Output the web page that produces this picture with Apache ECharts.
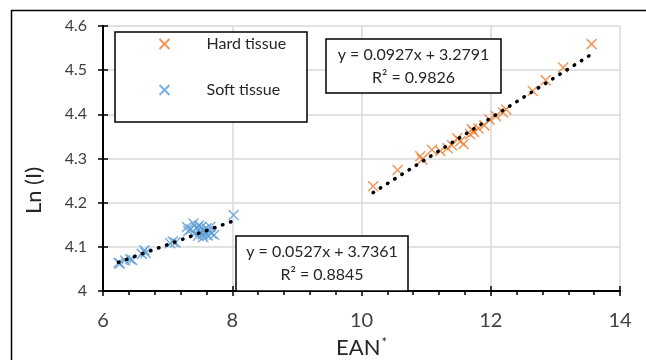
<!DOCTYPE html>
<html>
<head>
<meta charset="utf-8">
<script src="https://cdn.jsdelivr.net/npm/echarts@6/dist/echarts.min.js"></script>
<style>
  html, body { margin: 0; padding: 0; background: #fff; }
  #chart { width: 646px; height: 360px; }
</style>
</head>
<body>
<div id="chart"></div>
<script>
// axis ranges: [min, max, step]
const xRange = [6, 14, 2];
const yRange = [4, 4.6, 0.1];

const hardX = [10.18, 10.56, 10.91, 10.94, 11.09, 11.22, 11.33, 11.40, 11.48, 11.53, 11.58, 11.68,
  11.71, 11.74, 11.81, 11.90, 11.98, 12.08, 12.19, 12.24, 12.65, 12.85, 13.12, 13.56];
const hardY = [4.237, 4.274, 4.305, 4.298, 4.320, 4.317, 4.323, 4.330, 4.346, 4.339, 4.333, 4.355,
  4.366, 4.360, 4.368, 4.375, 4.388, 4.396, 4.404, 4.411, 4.453, 4.477, 4.506, 4.559];

const softX = [6.24, 6.26, 6.34, 6.42, 6.45, 6.60, 6.64, 6.66, 7.04, 7.08, 7.12, 7.30, 7.32, 7.36,
  7.40, 7.42, 7.45, 7.47, 7.48, 7.50, 7.52, 7.54, 7.55, 7.56, 7.58, 7.60, 7.62, 7.64, 7.66, 7.68, 7.72, 8.02];
const softY = [4.064, 4.062, 4.069, 4.072, 4.070, 4.084, 4.092, 4.086, 4.108, 4.112, 4.110, 4.145, 4.136, 4.140,
  4.153, 4.130, 4.142, 4.125, 4.148, 4.135, 4.145, 4.128, 4.122, 4.138, 4.132, 4.142, 4.126, 4.136, 4.145, 4.130, 4.127, 4.172];

// trendline coefficients [slope, intercept] and R² as printed on the chart
const hardFit = [0.0927, 3.2791, 0.9826];
const softFit = [0.0527, 3.7361, 0.8845];

const seriesNames = ['Hard tissue', 'Soft tissue'];
const colors = ['#ED7D31', '#5B9BD5'];

const FONT = 'Lato, "Noto Sans", sans-serif';
const CROSS = 'path://M0,0L10,10M10,0L0,10';

const zip = (xs, ys) => xs.map((x, i) => [x, ys[i]]);
const fitLine = (xs, fit) => {
  const lo = Math.min(...xs), hi = Math.max(...xs);
  return [[lo, fit[0] * lo + fit[1]], [hi, fit[0] * hi + fit[1]]];
};
const eqText = fit => `y = ${fit[0].toFixed(4)}x + ${fit[1].toFixed(4)}\nR² = ${fit[2].toFixed(4)}`;

const eqBox = (x, y, w, h, fit) => ({
  type: 'group', x: x, y: y, z: 20,
  children: [
    { type: 'rect', shape: { x: 0, y: 0, width: w, height: h }, z: 20,
      style: { fill: '#fff', stroke: '#000', lineWidth: 1.5 } },
    { type: 'text', x: w / 2, y: h / 2, z: 21,
      style: { text: eqText(fit), font: '16px ' + FONT, fill: '#262626',
        align: 'center', verticalAlign: 'middle', lineHeight: 23 } }
  ]
});

const scatter = (i, xs, ys) => ({
  name: seriesNames[i],
  type: 'scatter',
  data: zip(xs, ys),
  symbol: CROSS,
  symbolSize: 10,
  itemStyle: { color: 'none', borderColor: colors[i], borderWidth: 1.5 },
  z: 3
});

const trend = (xs, fit) => ({
  type: 'line',
  data: fitLine(xs, fit),
  showSymbol: false,
  silent: true,
  lineStyle: { color: '#000', width: 3.5, type: [0.5, 8], cap: 'round' },
  z: 4
});

const chart = echarts.init(document.getElementById('chart'), null, { renderer: 'canvas' });

// hidden copy of an axis that only draws the inner half of the crossing ticks
const tickAxis = (extra) => Object.assign({
  type: 'value', axisLine: { show: false }, axisLabel: { show: false },
  splitLine: { show: false }, axisTick: { inside: true, length: 5, lineStyle: { color: '#000', width: 1.5 } }
}, extra);

chart.setOption({
  backgroundColor: '#fff',
  animation: false,
  textStyle: { fontFamily: FONT },
  grid: { left: 103, right: 26, top: 26, bottom: 69, outerBoundsMode: 'none', containLabel: false },
  xAxis: [
    {
      type: 'value', min: xRange[0], max: xRange[1], interval: xRange[2],
      name: '{a|EAN}{s|*}', nameLocation: 'middle', nameGap: 45,
      nameTextStyle: { rich: {
        a: { fontSize: 22, color: '#262626', fontFamily: FONT },
        s: { fontSize: 13, color: '#262626', fontFamily: FONT, verticalAlign: 'top', padding: [0, 0, 10, 1] }
      } },
      axisLine: { lineStyle: { color: '#000', width: 2 } },
      axisTick: { length: 5, lineStyle: { color: '#000', width: 1.5 } },
      minorTick: { show: true, splitNumber: 5, length: 4, lineStyle: { color: '#000', width: 1.5 } },
      axisLabel: { fontSize: 20, color: '#404040', margin: 20 },
      splitLine: { lineStyle: { color: '#D9D9D9', width: 1.5 } }
    },
    tickAxis({ min: xRange[0], max: xRange[1], interval: xRange[2], position: 'bottom' })
  ],
  yAxis: [
    {
      type: 'value', min: yRange[0], max: yRange[1], interval: yRange[2],
      axisLine: { show: true, lineStyle: { color: '#000', width: 2 } },
      axisTick: { show: true, length: 5, lineStyle: { color: '#000', width: 1.5 } },
      axisLabel: { fontSize: 16, color: '#404040', margin: 16 },
      splitLine: { lineStyle: { color: '#D9D9D9', width: 1.5 } }
    },
    tickAxis({ min: yRange[0], max: yRange[1], interval: yRange[2], position: 'left' })
  ],
  legend: {
    orient: 'vertical',
    left: 157, top: 36,
    padding: 0,
    itemGap: 30,
    itemWidth: 74, itemHeight: 10,
    z: 30,
    textStyle: { fontSize: 16, color: '#262626', fontFamily: FONT },
    data: seriesNames.map(n => ({ name: n, icon: CROSS }))
  },
  graphic: [
    { type: 'rect', shape: { x: 11.5, y: 10.5, width: 700, height: 400 },
      style: { fill: 'none', stroke: '#000', lineWidth: 1.5 }, z: 1 },
    { type: 'rect', shape: { x: 115, y: 32, width: 192, height: 90 },
      style: { fill: '#fff', stroke: '#000', lineWidth: 1.5 }, z: 10 },
    eqBox(326, 39, 175, 54, hardFit),
    eqBox(236, 236, 172, 55, softFit),
    { type: 'text', left: 23, top: 167, rotation: Math.PI / 2,
      style: { text: 'Ln (I)', font: '22px ' + FONT, fill: '#262626' } }
  ],
  series: [
    scatter(0, hardX, hardY),
    scatter(1, softX, softY),
    trend(hardX, hardFit),
    trend(softX, softFit)
  ]
});
</script>
</body>
</html>
